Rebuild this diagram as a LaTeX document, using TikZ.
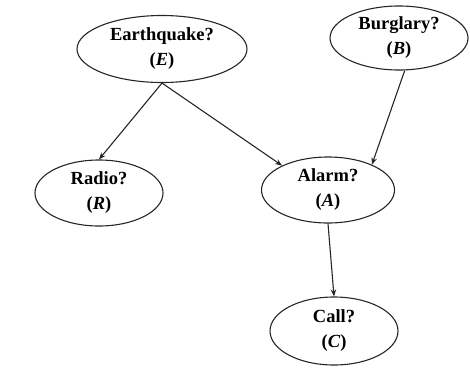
\documentclass[tikz,border=0pt]{standalone}
\usepackage{fontspec}
\setmainfont{Liberation Serif}
\usetikzlibrary{shapes.geometric,arrows.meta}

\begin{document}
\begin{tikzpicture}[x=1pt, y=-1pt, line width=1.1pt,
  every node/.style={font=\fontsize{18.5}{25}\selectfont\bfseries, align=center},
  var/.style={ellipse, draw=black!85, inner sep=0pt},
  dep/.style={-{Stealth[length=7pt,width=5.5pt]}, draw=black!85}]
  \useasboundingbox (0,0) rectangle (470,367);
  \node[var, minimum width=170, minimum height=67] (E) at (162,49) {Earthquake?\\(\textit{E})};
  \node[var, minimum width=138, minimum height=64] (B) at (399,38) {Burglary?\\(\textit{B})};
  \node[var, minimum width=128, minimum height=66] (R) at (99,193) {Radio?\\(\textit{R})};
  \node[var, minimum width=133, minimum height=66] (A) at (328,190) {Alarm?\\(\textit{A})};
  \node[var, minimum width=128, minimum height=68] (C) at (334,331) {Call?\\(\textit{C})};
  \draw[dep] (E.south) -- (R.north);
  \draw[dep] (E.south) -- (A.152);
  \draw[dep] (B.-80) -- (A.30);
  \draw[dep] (A.south) -- (C.north);
\end{tikzpicture}
\end{document}
